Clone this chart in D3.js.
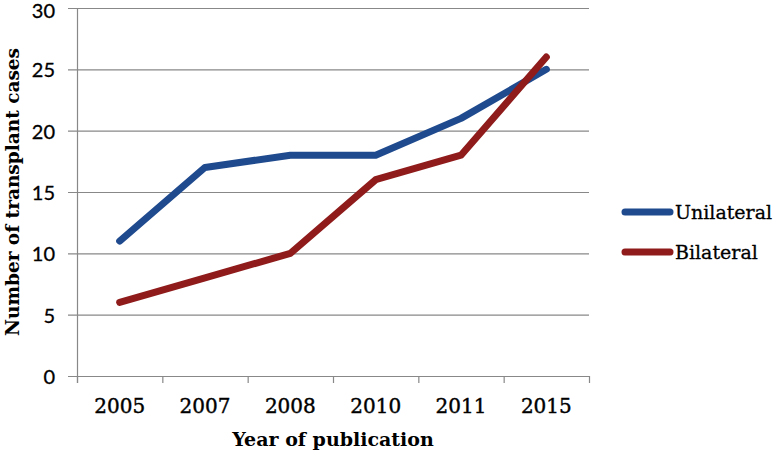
<!DOCTYPE html>
<html><head><meta charset="utf-8">
<script src="https://cdn.jsdelivr.net/npm/d3@7"></script>
<style>body{margin:0;background:#fff}</style>
</head><body>
<svg id="c" width="774" height="453"></svg>
<script>
const categories = ["2005","2007","2008","2010","2011","2015"];
const unilateral = [11,17,18,18,21,25];
const bilateral = [6,8,10,16,18,26];
const yTicks = [0,5,10,15,20,25,30];
const seriesNames = ["Unilateral","Bilateral"];
const colors = ["#1f4a8e","#8f1b1b"];

const svg = d3.select("#c");
const L=77, R=589, T=8, B=376;
const x = d3.scaleBand().domain(categories).range([L,R]);
const y = d3.scaleLinear().domain([0,30]).range([B,T]);
const grid="#888";
const serif="'DejaVu Serif', serif";

// gridlines
svg.append("g").selectAll("line").data(yTicks).join("line")
  .attr("x1",L-9).attr("x2",R).attr("y1",d=>y(d)+0.5).attr("y2",d=>y(d)+0.5)
  .attr("stroke",grid).attr("stroke-width",1.2);
// y axis line
svg.append("line").attr("x1",L+0.5).attr("x2",L+0.5).attr("y1",T).attr("y2",B+7).attr("stroke",grid).attr("stroke-width",1.2);
// x ticks at band boundaries
const bounds = categories.map(c=>x(c)).concat([R]);
svg.append("g").selectAll("line").data(bounds).join("line")
  .attr("x1",d=>d+0.5).attr("x2",d=>d+0.5).attr("y1",B).attr("y2",B+7)
  .attr("stroke",grid).attr("stroke-width",1.2);
// y labels
svg.append("g").selectAll("text").data(yTicks).join("text")
  .attr("x",55).attr("y",d=>Math.max(y(d)+8,18)).attr("text-anchor","end")
  .attr("font-family","Lato, 'Open Sans', sans-serif").attr("font-size",20).attr("fill","#000")
  .attr("stroke","#000").attr("stroke-width",0.3)
  .text(d=>d);
// x labels
svg.append("g").selectAll("text").data(categories).join("text")
  .attr("x",d=>x(d)+x.bandwidth()/2).attr("y",413).attr("text-anchor","middle")
  .attr("font-family",serif).attr("font-size",20).attr("fill","#000")
  .attr("stroke","#000").attr("stroke-width",0.4)
  .text(d=>d);
// axis titles
svg.append("text").attr("x",333).attr("y",446).attr("text-anchor","middle")
  .attr("font-family",serif).attr("font-weight","bold").attr("font-size",19)
  .text("Year of publication");
svg.append("text").attr("transform","translate(19,192) rotate(-90)").attr("text-anchor","middle")
  .attr("font-family",serif).attr("font-weight","bold").attr("font-size",18.5)
  .text("Number of transplant cases");

// lines
const line = d3.line().x((d,i)=>x(categories[i])+x.bandwidth()/2).y(d=>y(d));
[unilateral,bilateral].forEach((s,i)=>{
  svg.append("path").datum(s).attr("d",line).attr("fill","none")
    .attr("stroke",colors[i]).attr("stroke-width",7).attr("stroke-linecap","round").attr("stroke-linejoin","round");
});
// legend
seriesNames.forEach((n,i)=>{
  const ly = 212 + i*40;
  svg.append("line").attr("x1",625).attr("x2",670).attr("y1",ly).attr("y2",ly)
    .attr("stroke",colors[i]).attr("stroke-width",7).attr("stroke-linecap","round");
  svg.append("text").attr("x",675).attr("y",ly+7).attr("font-family",serif)
    .attr("font-size",19).attr("stroke","#000").attr("stroke-width",0.3).text(n);
});
</script>
</body></html>
